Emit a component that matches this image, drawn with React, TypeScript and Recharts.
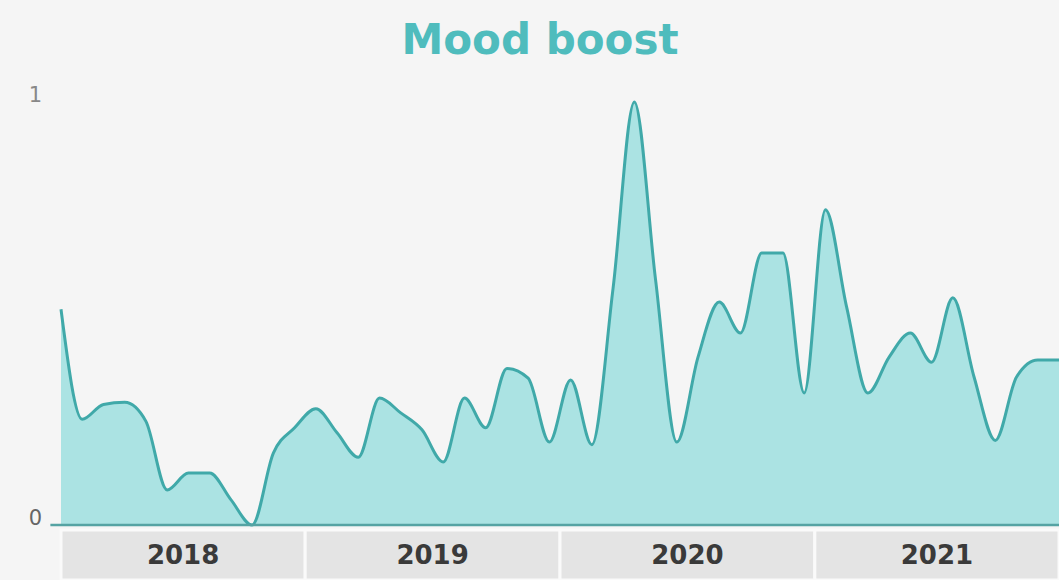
import { AreaChart, Area, XAxis, YAxis, ReferenceArea, ReferenceLine } from 'recharts';

// monthly index, Jan 2018 .. Dec 2021
const years = ['2018', '2019', '2020', '2021'];
const monthNames = ['Jan', 'Feb', 'Mar', 'Apr', 'May', 'Jun', 'Jul', 'Aug', 'Sep', 'Oct', 'Nov', 'Dec'];

const moodBoost = [
  0.51, 0.25, 0.285, 0.29, 0.245, 0.083, 0.123, 0.123, 0.06, 0.0, 0.17, 0.23,
  0.275, 0.218, 0.16, 0.3, 0.265, 0.225, 0.149, 0.3, 0.23, 0.37, 0.347, 0.196,
  0.343, 0.19, 0.56, 1.0, 0.58, 0.196, 0.397, 0.527, 0.454, 0.643, 0.643, 0.312,
  0.745, 0.515, 0.312, 0.397, 0.454, 0.385, 0.537, 0.35, 0.2, 0.35, 0.39, 0.39,
];

const yTicks = [0, 1];

const months = years.flatMap((y) => monthNames.map((m) => `${m} ${y}`));
const data = months.map((month, idx) => ({ idx, month, value: moodBoost[idx] }));
const lastIdx = data.length - 1;

const FONT = '"DejaVu Sans", sans-serif';
const TEAL = '#40a9a9';

function YTick({ x, y, payload }: any) {
  return (
    <text
      x={x}
      y={y}
      dy={0}
      textAnchor="end"
      fontFamily={FONT}
      fontSize={21}
      fill={payload.value === 0 ? '#666' : '#888'}
    >
      {payload.value}
    </text>
  );
}

export default function App() {
  return (
    <div
      style={{
        position: 'absolute',
        left: 0,
        top: 0,
        width: 1059,
        height: 580,
        overflow: 'hidden',
        background: '#f5f5f5',
      }}
    >
      <div
        style={{
          position: 'absolute',
          left: 0,
          top: 15,
          width: 1080,
          textAlign: 'center',
          fontFamily: FONT,
          fontWeight: 700,
          fontSize: 42,
          color: '#4fbcbd',
        }}
      >
        Mood boost
      </div>
      <AreaChart
        width={1059}
        height={580}
        data={data}
        margin={{ top: 102, right: 0, bottom: 0, left: 0 }}
      >
        <XAxis dataKey="idx" type="number" domain={[0, lastIdx]} hide />
        <YAxis
          type="number"
          domain={[-0.13, 1]}
          ticks={yTicks}
          width={61}
          axisLine={false}
          tickLine={false}
          tickSize={0}
          tickMargin={19}
          tick={<YTick />}
        />
        {years.map((year, i) => (
          <ReferenceArea
            key={year}
            x1={Math.max(0, i * 12 - 0.5)}
            x2={Math.min(lastIdx, i * 12 + 11.5)}
            y1={-0.13}
            y2={-0.012}
            fill="#e4e4e4"
            fillOpacity={1}
            stroke="#fafafa"
            strokeWidth={3}
            ifOverflow="visible"
            label={{
              value: year,
              position: 'center',
              fill: '#3a3a3a',
              fontSize: 26,
              fontWeight: 700,
              fontFamily: FONT,
            }}
          />
        ))}
        <Area
          type="monotone"
          dataKey="value"
          stroke={TEAL}
          strokeWidth={3}
          fill="#abe3e3"
          fillOpacity={1}
          baseValue={0}
          isAnimationActive={false}
          dot={false}
          activeDot={false}
        />
        <ReferenceLine
          segment={[
            { x: -0.5, y: 0 },
            { x: lastIdx, y: 0 },
          ]}
          stroke="#55a3a3"
          strokeWidth={2.5}
          ifOverflow="visible"
        />
      </AreaChart>
    </div>
  );
}
